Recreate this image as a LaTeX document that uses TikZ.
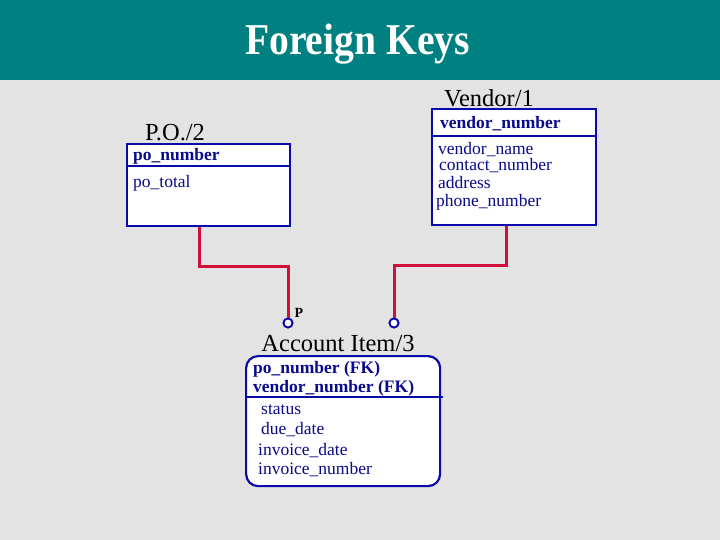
\documentclass[tikz,border=0pt]{standalone}
\usepackage{fontspec}
\setmainfont{Liberation Serif}
\definecolor{teal1}{HTML}{008080}
\definecolor{bggray}{HTML}{E3E3E3}
\definecolor{boxblue}{HTML}{0A0AA8}
\definecolor{txtblue}{HTML}{0A0A8C}
\definecolor{fkred}{HTML}{D0103A}
\begin{document}
\begin{tikzpicture}[x=1pt,y=-1pt,
  entbox/.style={draw=boxblue,line width=2.2pt,fill=white,anchor=north west,inner sep=0pt},
  hline/.style={draw=boxblue,line width=1.8pt},
  ttl/.style={font=\fontsize{24.5}{26}\selectfont,text=black,inner sep=0pt},
  fkey/.style={font=\fontsize{17.5}{18}\selectfont\bfseries,text=txtblue,anchor=west,inner sep=0pt},
  fld/.style={font=\fontsize{17.5}{18}\selectfont,text=txtblue,anchor=west,inner sep=0pt},
  fk/.style={draw=fkred,line width=3pt},
  endc/.style={circle,draw=boxblue,fill=white,line width=1.8pt,minimum size=9pt,inner sep=0pt}
]
\useasboundingbox (0,0) rectangle (720,540);
\fill[bggray] (0,0) rectangle (720,540);
\fill[teal1] (0,0) rectangle (720,80);
\node[font=\fontsize{44}{46}\selectfont\bfseries,text=white,inner sep=0pt,xscale=0.9] (title) at (357.5,44.5) {Foreign Keys};

\node[endc] (c1) at (288,323) {};
\node[endc] (c2) at (394,323) {};

% P.O./2
\node[ttl] (potitle) at (175,133) {P.O./2};
\node[entbox,minimum width=163,minimum height=82] (po) at (126,143) {};
\draw[hline] ([yshift=-23]po.north west) -- ([yshift=-23]po.north east);
\node[fkey] (pon) at (133,156) {po\_number};
\node[fld] (pot) at (133,183) {po\_total};

% Vendor/1
\node[ttl] (vtitle) at (489,98) {Vendor/1};
\node[entbox,minimum width=164,minimum height=116] (vendor) at (431,108) {};
\draw[hline] ([yshift=-28]vendor.north west) -- ([yshift=-28]vendor.north east);
\node[fkey] (vnum) at (440,124) {vendor\_number};
\node[fld] (vname) at (438,150) {vendor\_name};
\node[fld] (vcontact) at (439,166) {contact\_number};
\node[fld] (vaddr) at (438,183) {address};
\node[fld] (vphone) at (436,202) {phone\_number};

% Account Item/3
\node[ttl] (atitle) at (338,344) {Account Item/3};
\node[entbox,rounded corners=12pt,minimum width=194,minimum height=130] (ai) at (245,355) {};
\draw[hline] ([yshift=-42]ai.north west) -- ([yshift=-42,xshift=2]ai.north east);
\node[fkey] (apo) at (253,369) {po\_number (FK)};
\node[fkey] (aven) at (253,388) {vendor\_number (FK)};
\node[fld] (astat) at (261,410) {status};
\node[fld] (adue) at (261,430) {due\_date};
\node[fld] (ainvd) at (258,451) {invoice\_date};
\node[fld] (ainvn) at (258,470) {invoice\_number};

% relationship lines
\draw[fk] ([xshift=73]po.south west) -- ++(0,39) -| (c1.north);
\draw[fk] ([xshift=75]vendor.south west) -- ++(0,39) -| (c2.north);
\node[endc] at (c1) {};
\node[endc] at (c2) {};
\node[font=\fontsize{14}{15}\selectfont\bfseries,inner sep=0pt] (plabel) at (299,313) {P};
\end{tikzpicture}
\end{document}
